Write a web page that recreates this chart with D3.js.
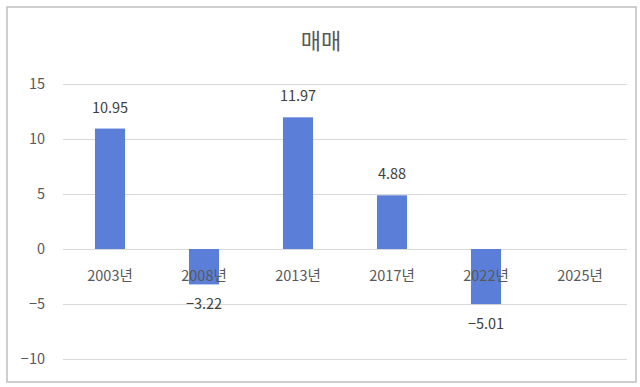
<!DOCTYPE html>
<html>
<head>
<meta charset="utf-8">
<script src="https://cdn.jsdelivr.net/npm/d3@7"></script>
<style>
  body { margin: 0; background: #fff; }
  svg { font-family: "Noto Sans CJK KR", "Noto Sans", sans-serif; }
</style>
</head>
<body>
<div id="chart"></div>
<script>
var categories = ["2003년", "2008년", "2013년", "2017년", "2022년", "2025년"];
var values = [10.95, -3.22, 11.97, 4.88, -5.01, null];
var yTicks = [-10, -5, 0, 5, 10, 15];

var W = 640, H = 387;
var margin = {top: 84, right: 13, bottom: 28, left: 63},
width = W - margin.left - margin.right,
height = H - margin.top - margin.bottom;

var svg = d3.select("#chart")
.append("svg")
.attr("width", W)
.attr("height", H);

// outer frame
svg.append("rect")
.attr("x", 7)
.attr("y", 7)
.attr("width", 629)
.attr("height", 375)
.attr("fill", "#fff")
.attr("stroke", "#bfbfbf")
.attr("stroke-width", 1.5);

svg.append("text")
.attr("x", 321)
.attr("y", 49)
.attr("text-anchor", "middle")
.attr("font-size", 22)
.attr("fill", "#595959")
.text("매매");

var g = svg.append("g")
.attr("transform", "translate(" + margin.left + "," + margin.top + ")");

var x = d3.scaleBand().domain(categories).range([0, width]).paddingInner(0.68).paddingOuter(0.34);
var y = d3.scaleLinear().domain([-10, 15]).range([275, 0]);

function fmt(v, dec) {
  return v < 0 ? "\u2212" + Math.abs(v).toFixed(dec) : v.toFixed(dec);
}

// gridlines
g.selectAll(".grid")
.data(yTicks)
.enter().append("line")
.attr("x1", 0)
.attr("x2", width)
.attr("y1", function(d) { return Math.round(y(d)) + 0.5; })
.attr("y2", function(d) { return Math.round(y(d)) + 0.5; })
.attr("stroke", "#d9d9d9")
.attr("stroke-width", 1);

var yAxis = g.append("g")
.call(d3.axisLeft(y).tickValues(yTicks).tickSize(0).tickPadding(18).tickFormat(function(d) { return fmt(d, 0); }));
yAxis.select(".domain").remove();
yAxis.selectAll("text").attr("font-size", 14.5).attr("fill", "#595959").attr("font-family", "\"Noto Sans CJK KR\", sans-serif");

var data = categories.map(function(c, i) { return {cat: c, v: values[i]}; });

g.selectAll(".bar")
.data(data.filter(function(d) { return d.v != null; }))
.enter().append("rect")
.attr("x", function(d) { return x(d.cat); })
.attr("width", x.bandwidth())
.attr("y", function(d) { return y(Math.max(0, d.v)); })
.attr("height", function(d) { return Math.abs(y(d.v) - y(0)); })
.attr("fill", "#5b7fd9");

// category labels near the zero line
g.selectAll(".cat")
.data(categories)
.enter().append("text")
.attr("x", function(d) { return x(d) + x.bandwidth() / 2; })
.attr("y", y(0) + 32)
.attr("text-anchor", "middle")
.attr("font-size", 14.5)
.attr("fill", "#595959")
.text(function(d) { return d; });

// value labels
g.selectAll(".val")
.data(data.filter(function(d) { return d.v != null; }))
.enter().append("text")
.attr("x", function(d) { return x(d.cat) + x.bandwidth() / 2; })
.attr("y", function(d) { return d.v >= 0 ? y(d.v) - 16 : y(d.v) + 25; })
.attr("text-anchor", "middle")
.attr("font-size", 14.5)
.attr("fill", "#404040")
.text(function(d) { return fmt(d.v, 2); });
</script>
</body>
</html>
